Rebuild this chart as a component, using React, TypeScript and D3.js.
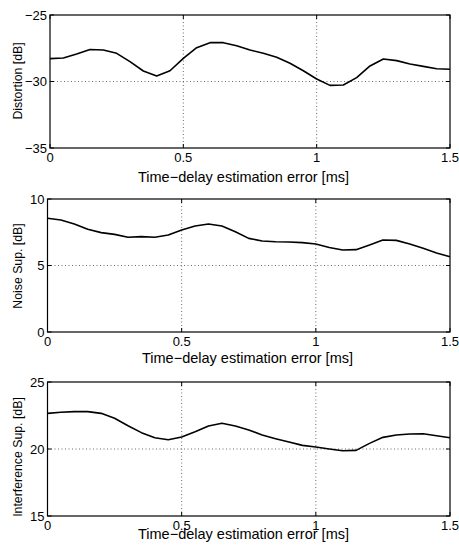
import { useRef, useEffect } from 'react'
import * as d3 from 'd3'

// time-delay estimation error in ms
const delays = [
  0, 0.05, 0.1, 0.15, 0.2, 0.25, 0.3, 0.35, 0.4, 0.45, 0.5, 0.55, 0.6, 0.65, 0.7, 0.75,
  0.8, 0.85, 0.9, 0.95, 1.0, 1.05, 1.1, 1.15, 1.2, 1.25, 1.3, 1.35, 1.4, 1.45, 1.5,
]

const distortion = [
  -28.28, -28.23, -27.93, -27.59, -27.63, -27.88, -28.51, -29.21, -29.59, -29.19, -28.26,
  -27.46, -27.08, -27.08, -27.31, -27.63, -27.88, -28.18, -28.63, -29.19, -29.81, -30.29,
  -30.26, -29.71, -28.83, -28.31, -28.43, -28.68, -28.86, -29.04, -29.08,
]

const noiseSup = [
  8.55, 8.42, 8.12, 7.72, 7.47, 7.34, 7.12, 7.17, 7.12, 7.29, 7.67, 7.97, 8.12, 7.97, 7.54,
  7.04, 6.84, 6.79, 6.77, 6.72, 6.62, 6.36, 6.17, 6.19, 6.54, 6.92, 6.89, 6.62, 6.29, 5.94,
  5.66,
]

const interferenceSup = [
  22.66, 22.74, 22.79, 22.79, 22.66, 22.29, 21.74, 21.22, 20.84, 20.69, 20.9, 21.29, 21.72,
  21.92, 21.72, 21.42, 21.04, 20.77, 20.52, 20.27, 20.15, 20.0, 19.87, 19.9, 20.42, 20.87,
  21.04, 21.12, 21.14, 20.99, 20.84,
]

const xTicks = [0, 0.5, 1, 1.5]
const xLabel = 'Time\u2212delay estimation error [ms]'

const yLabels = ['Distortion [dB]', 'Noise Sup. [dB]', 'Interference Sup. [dB]']
const series = [distortion, noiseSup, interferenceSup]
const yTickSets = [
  [-35, -30, -25],
  [0, 5, 10],
  [15, 20, 25],
]

// pixel layout of each subplot
const layout = [
  { left: 50, right: 450, top: 15, bottom: 148, xLabelX: 243.5, xLabelY: 181.5, yLabelY: 81 },
  { left: 47.5, right: 450, top: 199, bottom: 332, xLabelX: 247.5, xLabelY: 363, yLabelY: 266 },
  { left: 47.5, right: 450, top: 382, bottom: 516, xLabelX: 243.5, xLabelY: 539, yLabelY: 457 },
]

const FONT = '"Liberation Sans", Arial, Helvetica, sans-serif'

const App = () => {
  const svgRef = useRef<SVGSVGElement>(null)

  useEffect(() => {
    const svg = d3.select(svgRef.current)
    svg.selectAll('*').remove()
    const fmt = d3.format('~g')

    layout.forEach((p, k) => {
      const yTicks = yTickSets[k]
      const x = d3.scaleLinear().domain([0, 1.5]).range([p.left, p.right])
      const y = d3
        .scaleLinear()
        .domain([yTicks[0], yTicks[yTicks.length - 1]])
        .range([p.bottom, p.top])
      const g = svg.append('g')

      // dotted grid
      xTicks.slice(1, -1).forEach((t) => {
        g.append('line')
          .attr('x1', x(t)).attr('x2', x(t))
          .attr('y1', p.top).attr('y2', p.bottom)
          .attr('stroke', '#444').attr('stroke-width', 0.8).attr('stroke-dasharray', '1,2.5')
      })
      yTicks.slice(1, -1).forEach((t) => {
        g.append('line')
          .attr('x1', p.left).attr('x2', p.right)
          .attr('y1', y(t)).attr('y2', y(t))
          .attr('stroke', '#444').attr('stroke-width', 0.8).attr('stroke-dasharray', '1,2.5')
      })

      // inward ticks on all sides
      xTicks.forEach((t) => {
        g.append('line').attr('x1', x(t)).attr('x2', x(t)).attr('y1', p.bottom).attr('y2', p.bottom - 4).attr('stroke', '#000')
        g.append('line').attr('x1', x(t)).attr('x2', x(t)).attr('y1', p.top).attr('y2', p.top + 4).attr('stroke', '#000')
      })
      yTicks.forEach((t) => {
        g.append('line').attr('x1', p.left).attr('x2', p.left + 4).attr('y1', y(t)).attr('y2', y(t)).attr('stroke', '#000')
        g.append('line').attr('x1', p.right).attr('x2', p.right - 4).attr('y1', y(t)).attr('y2', y(t)).attr('stroke', '#000')
      })

      // data line
      const line = d3
        .line<number>()
        .x((d, i) => x(delays[i]))
        .y((d) => y(d))
      g.append('path')
        .datum(series[k])
        .attr('d', line)
        .attr('fill', 'none')
        .attr('stroke', '#000')
        .attr('stroke-width', 1.6)
        .attr('stroke-linejoin', 'round')

      // box
      g.append('rect')
        .attr('x', p.left).attr('y', p.top)
        .attr('width', p.right - p.left).attr('height', p.bottom - p.top)
        .attr('fill', 'none').attr('stroke', '#000').attr('stroke-width', 1.2)

      // tick labels
      xTicks.forEach((t) => {
        g.append('text')
          .text(fmt(t))
          .attr('x', x(t)).attr('y', p.bottom + 14)
          .attr('text-anchor', 'middle')
          .style('font-family', FONT).style('font-size', '13px')
      })
      yTicks.forEach((t) => {
        g.append('text')
          .text(fmt(t))
          .attr('x', p.left - 3).attr('y', y(t))
          .attr('dy', '0.35em')
          .attr('text-anchor', 'end')
          .style('font-family', FONT).style('font-size', '13px')
      })

      // axis labels
      g.append('text')
        .text(xLabel)
        .attr('x', p.xLabelX).attr('y', p.xLabelY)
        .attr('text-anchor', 'middle')
        .style('font-family', FONT).style('font-size', '14.5px')
      g.append('text')
        .text(yLabels[k])
        .attr('transform', `translate(22, ${p.yLabelY}) rotate(-90)`)
        .attr('text-anchor', 'middle')
        .style('font-family', FONT).style('font-size', '12.3px')
    })
  }, [])

  return (
    <svg
      ref={svgRef}
      width={459}
      height={546}
      style={{ position: 'absolute', left: 0, top: 0, background: '#fff' }}
    />
  )
}

export default App
